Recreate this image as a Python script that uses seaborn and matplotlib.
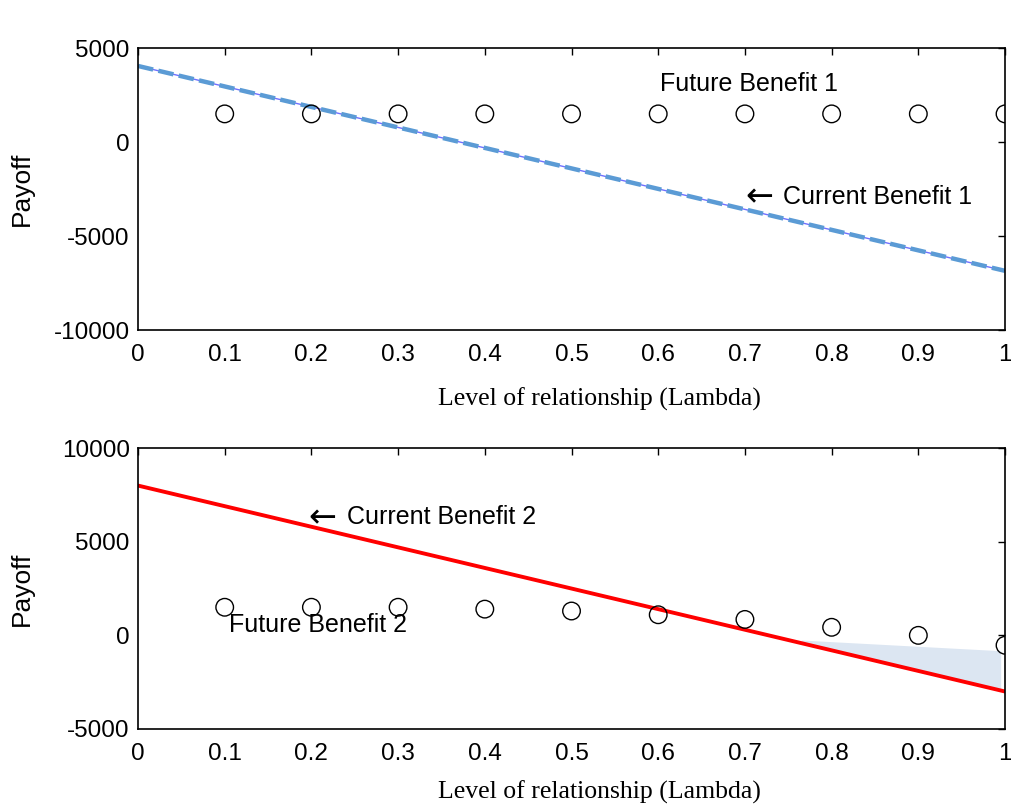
import numpy as np
import seaborn as sns
import matplotlib.pyplot as plt

# data
lam_line = [0.0, 1.0]
current_benefit_1 = [4050, -6850]
current_benefit_2 = [8000, -3000]

lam_points = [0.1, 0.2, 0.3, 0.4, 0.5, 0.6, 0.7, 0.8, 0.9, 1.0]
future_benefit_1 = [1500, 1500, 1500, 1500, 1500, 1500, 1500, 1500, 1500, 1500]
future_benefit_2 = [1500, 1500, 1500, 1400, 1300, 1100, 850, 430, 0, -530]

# shaded wedge at the right of the lower panel
fill_x = [0.765, 0.995]
fill_upper = [-250, -820]

x_ticks = [0, 0.1, 0.2, 0.3, 0.4, 0.5, 0.6, 0.7, 0.8, 0.9, 1]
x_tick_labels = ['0', '0.1', '0.2', '0.3', '0.4', '0.5', '0.6', '0.7', '0.8', '0.9', '1']
y_ticks_top = [-10000, -5000, 0, 5000]
y_ticks_bottom = [-5000, 0, 5000, 10000]

sns.set_style('white')
plt.rcParams['font.family'] = ['Liberation Sans', 'DejaVu Sans']
plt.rcParams['text.color'] = 'black'
plt.rcParams['axes.labelcolor'] = 'black'

fig = plt.figure(figsize=(10.11, 8.07), dpi=100)
ax1 = fig.add_axes([0.1365, 0.591, 0.8576, 0.3494])
ax2 = fig.add_axes([0.1365, 0.0967, 0.8576, 0.348])

TXT = 17.5


def style_axes(ax, yticks, xlab_y):
    ax.set_xlim(0, 1)
    ax.set_ylim(yticks[0], yticks[-1])
    ax.set_xticks(x_ticks)
    ax.set_xticklabels(x_tick_labels)
    ax.set_yticks(yticks)
    ax.set_yticklabels([str(v) for v in yticks])
    ax.tick_params(direction='in', length=5, width=1, top=True, right=True,
                   labelsize=TXT, colors='black')
    ax.tick_params(axis='x', pad=10)
    ax.tick_params(axis='y', pad=6)
    for s in ax.spines.values():
        s.set_visible(True)
        s.set_color('black')
        s.set_linewidth(1.2)
    ax.set_ylabel('Payoff', fontsize=19)
    ax.yaxis.set_label_coords(-0.12, 0.5)
    ax.set_xlabel('Level of relationship (Lambda)', fontsize=18.5,
                  family=['Liberation Serif', 'DejaVu Serif'])
    ax.xaxis.set_label_coords(0.532, xlab_y)


def arrow_label(ax, x_arrow, x_text, y, label):
    ax.text(x_arrow, y, '\u2190', fontsize=24, family='DejaVu Sans',
            va='center', ha='left')
    ax.text(x_text, y, label, fontsize=TXT + 0.5, va='center', ha='left')


# top panel
sns.lineplot(x=lam_line, y=current_benefit_1, ax=ax1, color='#7070ff', linewidth=1)
sns.lineplot(x=lam_line, y=current_benefit_1, ax=ax1, color='#5b9bd5',
             linewidth=3.2, linestyle=(0, (3.5, 1.2)))
sns.scatterplot(x=lam_points, y=future_benefit_1, ax=ax1, marker='o', s=160,
                facecolor='none', edgecolor='black', linewidth=1, zorder=3)
ax1.text(0.602, 3100, 'Future Benefit 1', fontsize=TXT + 0.5, va='center', ha='left')
arrow_label(ax1, 0.700, 0.744, -2900, 'Current Benefit 1')
style_axes(ax1, y_ticks_top, -0.205)

# bottom panel
red_at_fill = np.interp(fill_x, lam_line, current_benefit_2)
ax2.fill_between(fill_x, red_at_fill, fill_upper, color='#dce6f2', linewidth=0)
sns.lineplot(x=lam_line, y=current_benefit_2, ax=ax2, color='#ff0000', linewidth=2.8)
sns.scatterplot(x=lam_points, y=future_benefit_2, ax=ax2, marker='o', s=160,
                facecolor='none', edgecolor='black', linewidth=1, zorder=3)
arrow_label(ax2, 0.197, 0.241, 6300, 'Current Benefit 2')
ax2.text(0.105, 550, 'Future Benefit 2', fontsize=TXT + 0.5, va='center', ha='left')
style_axes(ax2, y_ticks_bottom, -0.185)

fig.savefig('out.png', dpi=100)
